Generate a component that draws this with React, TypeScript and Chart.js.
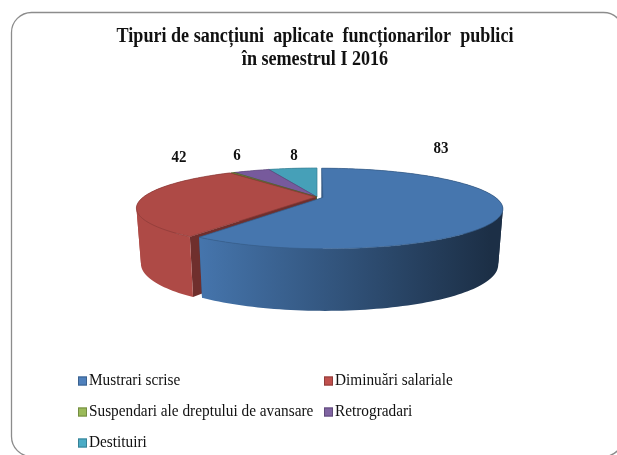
import React, { useEffect, useRef } from "react";
import { Chart, registerables } from "chart.js";

Chart.register(...registerables);

const categories = ["Mustrari scrise", "Diminuări salariale", "Suspendari ale dreptului de avansare", "Retrogradari", "Destituiri"];
const values = [83, 42, 0.5, 6, 8];
const valueLabels = ["83", "42", "", "6", "8"];
const sliceColors = ["#4676ae", "#ae4a46", "#7f9a45", "#775a9c", "#46a0b8"];
const legendColors = ["#4f81bd", "#c0504d", "#9bbb59", "#8064a2", "#4bacc6"];
const titleLines = ["Tipuri de sancțiuni  aplicate  funcționarilor  publici", "în semestrul I 2016"];

const SERIF = '"Liberation Serif", "Times New Roman", serif';
const CX = 317, CY = 197, A = 172, B = 37, K = 0.275;
const topPt = (u: number, v: number) => {
  const w = 1 - K * v;
  return [CX + (A * u) / w, CY + (B * v) / w];
};
const botPt = (u: number, v: number) => {
  const p = topPt(u, v);
  return [CX + (p[0] - CX) * 0.975, p[1] + 53 + 9 * v];
};

function hexShade(hex: string, f: number) {
  const n = parseInt(hex.slice(1), 16);
  const c = [(n >> 16) & 255, (n >> 8) & 255, n & 255].map((x) => Math.round(x * f));
  return `rgb(${c[0]},${c[1]},${c[2]})`;
}

function text(ctx: CanvasRenderingContext2D, s: string, x: number, y: number, font: string, sx: number, align: CanvasTextAlign) {
  ctx.save();
  ctx.translate(x, y);
  ctx.scale(sx, 1);
  ctx.font = font;
  ctx.fillStyle = "#111";
  ctx.textAlign = align;
  ctx.textBaseline = "middle";
  ctx.fillText(s, 0, 0);
  ctx.restore();
}

const pie3d = {
  id: "pie3d",
  beforeDraw(chart: any) {
    const ctx = chart.ctx as CanvasRenderingContext2D;
    ctx.save();
    ctx.fillStyle = "#fff";
    ctx.fillRect(0, 0, chart.width, chart.height);
    ctx.strokeStyle = "#8c8c8c";
    ctx.lineWidth = 1.3;
    ctx.beginPath();
    ctx.roundRect(11.5, 12.5, 612, 444, 20);
    ctx.stroke();
    ctx.restore();
    text(ctx, titleLines[0], 315, 37, `bold 20px ${SERIF}`, 0.905, "center");
    text(ctx, titleLines[1], 315, 60, `bold 20px ${SERIF}`, 0.905, "center");
  },
  beforeDatasetsDraw(chart: any) {
    const ctx = chart.ctx as CanvasRenderingContext2D;
    const arcs = chart.getDatasetMeta(0).data as any[];
    const geo = arcs.map((el, i) => {
      const p = el.getProps(["startAngle", "endAngle", "outerRadius"], true);
      const mid = (p.startAngle + p.endAngle) / 2;
      const off = (chart.data.datasets[0].offset[i] || 0) / p.outerRadius;
      const ox = off * Math.cos(mid), oy = off * Math.sin(mid);
      const rim: [number, number][] = [];
      const n = Math.max(2, Math.ceil((p.endAngle - p.startAngle) * 40));
      for (let k = 0; k <= n; k++) {
        const a = p.startAngle + ((p.endAngle - p.startAngle) * k) / n;
        rim.push([ox + Math.cos(a), oy + Math.sin(a)]);
      }
      return { rim, ox, oy };
    });
    const poly = (pts: number[][]) => {
      ctx.beginPath();
      pts.forEach((q, j) => (j ? ctx.lineTo(q[0], q[1]) : ctx.moveTo(q[0], q[1])));
      ctx.closePath();
    };
    for (let i = arcs.length - 1; i >= 0; i--) {
      const { rim, ox, oy } = geo[i];
      const base = sliceColors[i];
      const wall = hexShade(base, 0.64);
      [rim[0], rim[rim.length - 1]].forEach((e) => {
        poly([topPt(ox, oy), topPt(e[0], e[1]), botPt(e[0], e[1]), botPt(ox, oy)]);
        ctx.fillStyle = wall;
        ctx.fill();
      });
      const g = ctx.createLinearGradient(195, 0, 490, 0);
      g.addColorStop(0, base);
      g.addColorStop(1, hexShade(base, 0.4));
      ctx.fillStyle = g;
      // split the rim where the wall turns from back-facing to front-facing
      const facing = (q: number[], r: number[]) => {
        const a = topPt(q[0], q[1]), b = topPt(r[0], r[1]);
        return b[0] - a[0] < 0;
      };
      let run: [number, number][] = [rim[0]];
      let side = facing(rim[0], rim[1]);
      const flush = () => {
        poly([...run.map((q) => topPt(q[0], q[1])), ...run.slice().reverse().map((q) => botPt(q[0], q[1]))]);
        ctx.fill();
      };
      for (let k = 1; k < rim.length; k++) {
        const s = facing(rim[k - 1], rim[k]);
        if (s !== side) {
          flush();
          run = [rim[k - 1]];
          side = s;
        }
        run.push(rim[k]);
      }
      flush();
    }
    for (let i = arcs.length - 1; i >= 0; i--) {
      const { rim, ox, oy } = geo[i];
      poly([topPt(ox, oy), ...rim.map((q) => topPt(q[0], q[1]))]);
      ctx.fillStyle = sliceColors[i];
      ctx.fill();
      ctx.strokeStyle = i === 2 ? "#4f5f2a" : hexShade(sliceColors[i], 0.8);
      ctx.lineWidth = 0.7;
      ctx.stroke();
    }
    return false;
  },
  afterDraw(chart: any) {
    const ctx = chart.ctx as CanvasRenderingContext2D;
    const labelPos = [[441, 149], [179, 158], null, [237, 156], [294, 156]];
    labelPos.forEach((p, i) => {
      if (p) text(ctx, valueLabels[i], p[0], p[1], `bold 17px ${SERIF}`, 0.88, "center");
    });
    const legendPos = [[78, 381], [324, 381], [78, 412], [324, 412], [78, 443]];
    (chart.data.labels as string[]).forEach((lab, i) => {
      const [x, y] = legendPos[i];
      ctx.fillStyle = legendColors[i];
      ctx.fillRect(x, y - 4.5, 9, 9);
      ctx.strokeStyle = hexShade(legendColors[i], 0.75);
      ctx.lineWidth = 1;
      ctx.strokeRect(x + 0.5, y - 4, 8, 8);
      text(ctx, lab, x + 11, y, `17px ${SERIF}`, 0.9, "left");
    });
  },
};

export default function App() {
  const ref = useRef<HTMLCanvasElement>(null);
  useEffect(() => {
    const chart = new Chart(ref.current!, {
      type: "pie",
      data: {
        labels: categories,
        datasets: [{ data: values, backgroundColor: sliceColors, offset: [8, 2, 0, 0, 0] } as any],
      },
      options: {
        responsive: false,
        animation: false,
        plugins: { legend: { display: false }, title: { display: false }, tooltip: { enabled: false } },
      },
      plugins: [pie3d as any],
    });
    return () => chart.destroy();
  }, []);
  return (
    <canvas
      ref={ref}
      width={617}
      height={455}
      style={{ position: "absolute", left: 0, top: 0, width: 617, height: 455, display: "block" }}
    />
  );
}
